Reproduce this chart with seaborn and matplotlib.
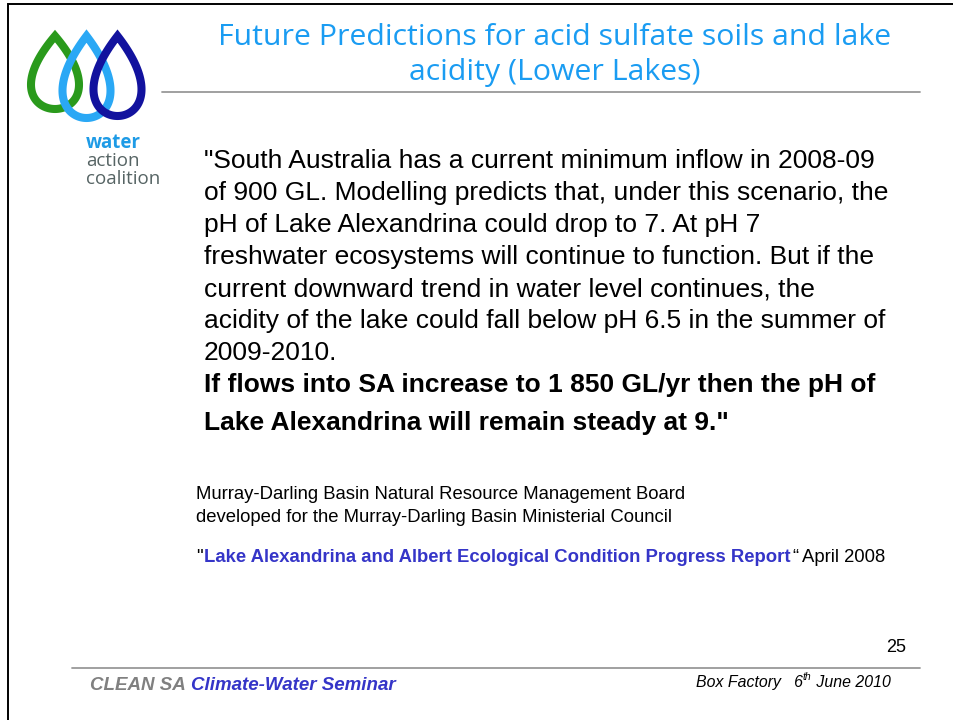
import numpy as np
import matplotlib
matplotlib.use("Agg")
import matplotlib.pyplot as plt
import seaborn as sns
from matplotlib.patches import Polygon

sns.set_theme(style="white")
plt.rcParams['font.family'] = ['Liberation Sans', 'DejaVu Sans']

# slide content
title_lines = ["Future Predictions for acid sulfate soils and lake",
               "acidity (Lower Lakes)"]
quote_lines = ["\"South Australia has a current minimum inflow in 2008-09",
               "of 900 GL. Modelling predicts that, under this scenario, the",
               "pH of Lake Alexandrina could drop to 7. At pH 7",
               "freshwater ecosystems will continue to function. But if the",
               "current downward trend in water level continues, the",
               "acidity of the lake could fall below pH 6.5 in the summer of",
               "2009-2010."]
bold_lines = ["If flows into SA increase to 1 850 GL/yr then the pH of",
              "Lake Alexandrina will remain steady at 9.\""]
source_lines = ["Murray-Darling Basin Natural Resource Management Board",
                "developed for the Murray-Darling Basin Ministerial Council"]
report_title = "Lake Alexandrina and Albert Ecological Condition Progress Report"
report_date = "April 2008"
footer_event = ["CLEAN SA", "Climate-Water Seminar"]
footer_place = ["Box Factory   6", "th", " June 2010"]
page_number = "25"
logo_words = ["water", "action", "coalition"]
drop_colors = ["#2a9a1c", "#2aa8f5", "#12129e"]

title_blue = "#1a9cf2"
dark_blue = "#3535c8"
logo_font = ['Open Sans', 'DejaVu Sans']

fig = plt.figure(figsize=(9.54, 7.2), dpi=100)
ax = fig.add_axes([0, 0, 1, 1])
ax.set_xlim(0, 954)
ax.set_ylim(720, 0)
ax.axis('off')
renderer = fig.canvas.get_renderer()

# slide frame (left and top edges visible)
ax.plot([8, 8, 954], [720, 4, 4], color='black', lw=1.4, solid_joinstyle='miter')

# logo drops: teardrop outline, tip at top
drop_geom = [(55, 36, 109), (86.5, 36, 118), (117.5, 36, 116)]
half_w = 24
t = np.linspace(0, 2 * np.pi, 240)
shape_x = np.sin(t) * np.abs(np.sin(t / 2))
shape_x = shape_x / shape_x.max()
for (cx, top, bottom), col in zip(drop_geom, drop_colors):
    b = (bottom - top) / 2
    xs = cx + half_w * shape_x
    ys = top + b * (1 - np.cos(t))
    ax.add_patch(Polygon(np.column_stack([xs, ys]), closed=True, fill=False,
                         edgecolor=col, lw=5.8, joinstyle='miter'))

ax.text(86, 148, logo_words[0], color="#1e9be6", fontsize=13.5, fontweight='bold',
        family=logo_font, va='baseline')
ax.text(86, 166, logo_words[1], color="#566464", fontsize=13.5,
        family=logo_font, va='baseline')
ax.text(86, 184, logo_words[2], color="#566464", fontsize=13.5,
        family=logo_font, va='baseline')

# title and rule
for i, line in enumerate(title_lines):
    ax.text(555, 45 + 35 * i, line, color=title_blue, fontsize=21.8, ha='center',
            va='baseline', family=logo_font)
ax.plot([162, 920], [92, 92], color='#999999', lw=1.3)

# quote body
for i, line in enumerate(quote_lines):
    ax.text(204, 168 + 32 * i, line, color='black', fontsize=19, va='baseline')
for i, line in enumerate(bold_lines):
    ax.text(204, 392 + 38 * i, line, color='black', fontsize=19,
            fontweight='bold', va='baseline')

# source
for i, line in enumerate(source_lines):
    ax.text(196, 499 + 23 * i, line, color='black', fontsize=13.3, va='baseline')


def put_runs(x, y, runs):
    for s, props, gap in runs:
        txt = ax.text(x, y, s, va='baseline', **props)
        x += txt.get_window_extent(renderer).width + gap
    return x


put_runs(196, 562, [
    ("\"", dict(color='black', fontsize=13.3), 1),
    (report_title, dict(color=dark_blue, fontsize=13.3, fontweight='bold'), 2),
    ("\u201c", dict(color='black', fontsize=13.3), 4),
    (report_date, dict(color='black', fontsize=13.3), 0),
])

# footer
ax.text(906, 652, page_number, color='black', fontsize=13, ha='right', va='baseline')
ax.plot([72, 920], [668, 668], color='#999999', lw=1.3)
put_runs(90, 690, [
    (footer_event[0], dict(color='#808080', fontsize=13.5, fontweight='bold', style='italic'), 5),
    (footer_event[1], dict(color=dark_blue, fontsize=13.5, fontweight='bold', style='italic'), 0),
])
x = put_runs(696, 687, [
    (footer_place[0], dict(color='black', fontsize=11.4, style='italic'), 0),
])
ax.text(x, 680, footer_place[1], color='black', fontsize=7.5, style='italic', va='baseline')
ax.text(x + 9, 687, footer_place[2], color='black', fontsize=11.4, style='italic', va='baseline')

fig.savefig("out.png", dpi=100, facecolor='white')
